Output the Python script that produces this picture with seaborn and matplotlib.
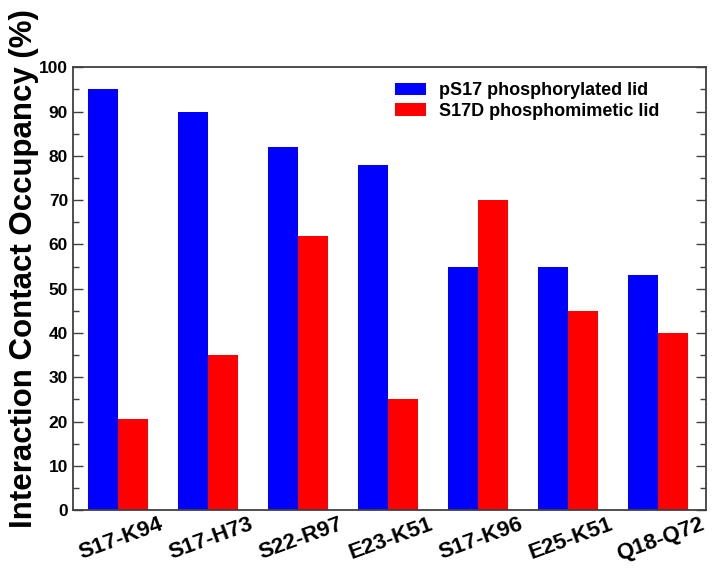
import matplotlib
matplotlib.use("Agg")
import matplotlib.pyplot as plt
import matplotlib.transforms as mtransforms
import seaborn as sns
import pandas as pd
from matplotlib.ticker import MultipleLocator

categories = ["S17-K94", "S17-H73", "S22-R97", "E23-K51", "S17-K96", "E25-K51", "Q18-Q72"]
series_names = ["pS17 phosphorylated lid", "S17D phosphomimetic lid"]
ps17 = [95, 90, 82, 78, 55, 55, 53]
s17d = [20.5, 35, 62, 25, 70, 45, 40]

df = pd.DataFrame({
    "pair": categories * 2,
    "series": [series_names[0]] * len(categories) + [series_names[1]] * len(categories),
    "occ": ps17 + s17d,
})

sns.set_style("ticks")
plt.rcParams["font.family"] = ["Liberation Sans", "DejaVu Sans"]
plt.rcParams["font.weight"] = "bold"
plt.rcParams["text.color"] = "black"
plt.rcParams["xtick.color"] = "black"
plt.rcParams["ytick.color"] = "black"
plt.rcParams["axes.labelcolor"] = "black"

fig = plt.figure(figsize=(7.15, 5.7), dpi=100)
ax = fig.add_axes([0.102, 0.105, 0.885, 0.777])

sns.barplot(data=df, x="pair", y="occ", hue="series", order=categories,
            hue_order=series_names, palette=["#0000ff", "#ff0000"],
            width=2/3, gap=0, saturation=1, linewidth=0, ax=ax, errorbar=None)

ax.set_xlim(-0.5, 6.53)
ax.set_ylim(0, 100)
ax.yaxis.set_major_locator(MultipleLocator(10))
ax.yaxis.set_minor_locator(MultipleLocator(5))
ax.tick_params(axis="y", which="both", direction="in", left=True, right=True,
               labelsize=12.5, colors="black")
ax.tick_params(axis="y", which="both", color="#404040")
ax.tick_params(axis="y", which="major", length=7, width=1)
ax.tick_params(axis="y", which="minor", length=4, width=1)
ax.tick_params(axis="x", length=0, labelsize=16, pad=3)
shift = mtransforms.ScaledTranslation(3 / 100, 0, fig.dpi_scale_trans)
for lab in ax.get_xticklabels():
    lab.set_rotation(20)
    lab.set_ha("center")
    lab.set_va("top")
    lab.set_fontweight("bold")
    lab.set_color("black")
    lab.set_transform(lab.get_transform() + shift)
for lab in ax.get_yticklabels():
    lab.set_fontweight("bold")
    lab.set_color("black")

ax.set_xlabel("")
ax.set_ylabel("Interaction Contact Occupancy (%)", fontsize=22.5, fontweight="bold",
              color="black")
ax.yaxis.set_label_coords(-0.053, 0.545)
for s in ax.spines.values():
    s.set_visible(True)
    s.set_color("#404040")
    s.set_linewidth(1.3)

leg = ax.legend(loc="upper left", bbox_to_anchor=(0.509, 0.966), frameon=False,
                borderpad=0, borderaxespad=0,
                prop={"size": 13, "weight": "bold"}, handlelength=1.72, handleheight=0.72,
                handletextpad=0.72, labelspacing=0.2)

fig.savefig("out.png", dpi=100)
